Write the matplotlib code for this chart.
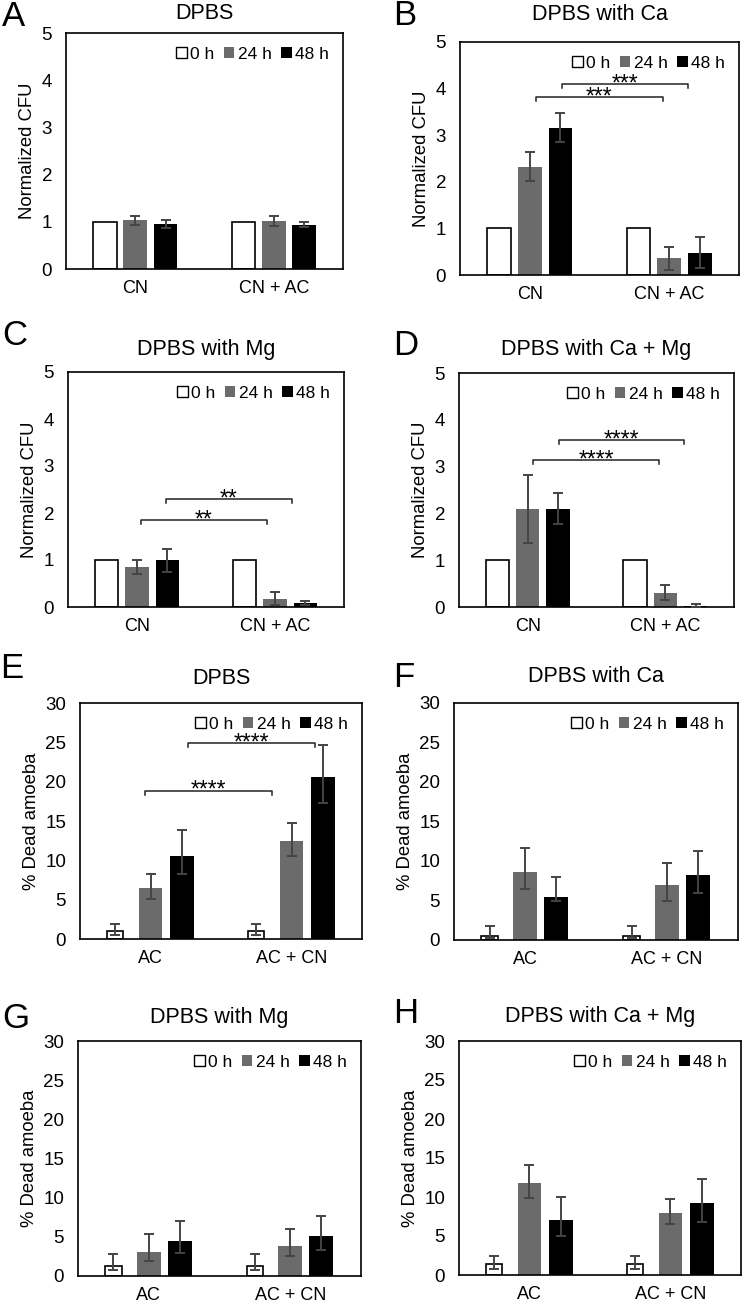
import numpy as np
import matplotlib
matplotlib.use('Agg')
import matplotlib.pyplot as plt
from matplotlib.patches import Patch

plt.rcParams['font.family'] = ['Liberation Sans', 'DejaVu Sans']

# ---- data ----
times = ['0 h', '24 h', '48 h']
cfu_groups = ['CN', 'CN + AC']
amoeba_groups = ['AC', 'AC + CN']

# values per group: [0 h, 24 h, 48 h]
cfu_dpbs = [[1.0, 1.03, 0.95], [1.0, 1.02, 0.94]]
cfu_dpbs_err = [[0, 0.09, 0.09], [0, 0.11, 0.05]]
cfu_ca = [[1.0, 2.32, 3.16], [1.0, 0.36, 0.48]]
cfu_ca_err = [[0, 0.31, 0.31], [0, 0.25, 0.34]]
cfu_mg = [[1.0, 0.86, 0.99], [1.0, 0.18, 0.085]]
cfu_mg_err = [[0, 0.15, 0.24], [0, 0.14, 0.035]]
cfu_camg = [[1.0, 2.10, 2.10], [1.0, 0.30, 0.03]]
cfu_camg_err = [[0, 0.73, 0.33], [0, 0.16, 0.03]]

dead_dpbs = [[1.0, 6.5, 10.6], [1.0, 12.5, 20.6]]
dead_dpbs_lo = [[0.45, 1.45, 2.3], [0.45, 1.9, 3.25]]
dead_dpbs_hi = [[0.93, 1.8, 3.3], [0.93, 2.3, 4.0]]
dead_ca = [[0.55, 8.6, 5.4], [0.55, 6.9, 8.2]]
dead_ca_lo = [[0.34, 2.2, 0.5], [0.34, 1.9, 2.2]]
dead_ca_hi = [[1.27, 3.1, 2.6], [1.27, 2.9, 3.1]]
dead_mg = [[1.27, 3.1, 4.5], [1.27, 3.8, 5.1]]
dead_mg_lo = [[0.55, 1.2, 1.55], [0.55, 1.3, 1.75]]
dead_mg_hi = [[1.57, 2.2, 2.55], [1.57, 2.2, 2.55]]
dead_camg = [[1.4, 11.8, 7.1], [1.4, 7.9, 9.2]]
dead_camg_lo = [[0.63, 1.9, 2.1], [0.63, 1.4, 2.35]]
dead_camg_hi = [[1.03, 2.3, 2.9], [1.03, 1.9, 3.1]]

# significance brackets: (x start, x end, height, label)
sig_ca = [(0.045, 0.953, 3.81, '***'), (0.229, 1.137, 4.09, '***')]
sig_mg = [(0.027, 0.944, 1.85, '**'), (0.208, 1.125, 2.29, '**')]
sig_camg = [(0.04, 0.957, 3.14, '****'), (0.227, 1.139, 3.57, '****')]
sig_dead_dpbs = [(-0.039, 0.86, 18.85, '****'), (0.268, 1.167, 24.87, '****')]

W, H = 742, 1304
fig = plt.figure(figsize=(W / 100, H / 100), dpi=100)

colors = ['white', '#6b6b6b', 'black']


def add_axes(l, t, r, b):
    return fig.add_axes([l / W, 1 - b / H, (r - l) / W, (b - t) / H])


def draw_panel(ax, groups, vals, lo, hi, ymax, ystep, ylabel, title, tpad,
               sig=(), narrow0=False):
    vals = np.array(vals, dtype=float).T
    lo = np.array(lo, dtype=float).T
    hi = np.array(hi, dtype=float).T
    x = np.arange(len(groups))
    offsets = [-0.22, 0.0, 0.22]
    widths = [0.17, 0.17, 0.17]
    if narrow0:
        offsets[0] = -0.25
        widths[0] = 0.115
    for k in range(3):
        pos = x + offsets[k]
        ax.bar(pos, vals[k], widths[k], color=colors[k],
               edgecolor='black', linewidth=1.2 if k == 0 else 0, zorder=2)
        m = hi[k] > 0
        if m.any():
            ax.errorbar(pos[m], vals[k][m], yerr=[lo[k][m], hi[k][m]], fmt='none',
                        ecolor='#444444', elinewidth=1.4, capsize=3.5,
                        capthick=1.4, zorder=3)
    for x1, x2, y, s in sig:
        d = ymax * 0.017
        ax.plot([x1, x1, x2, x2], [y - d, y, y, y - d], color='#222222', lw=1.1, zorder=4)
        ax.annotate(s, xy=((x1 + x2) / 2, y), xytext=(0, -4.5), textcoords='offset points',
                    ha='center', va='baseline', fontsize=16.5)
    ax.set_xlim(-0.5, 1.5)
    ax.set_ylim(0, ymax)
    ax.set_yticks(np.arange(0, ymax + ystep / 2, ystep))
    ax.set_xticks(x)
    ax.set_xticklabels(groups, fontsize=13)
    ax.tick_params(axis='y', length=0, pad=10, labelsize=13.5)
    ax.tick_params(axis='x', length=0, pad=8)
    ax.set_ylabel(ylabel, fontsize=13.3, labelpad=4)
    ax.set_title(title, fontsize=15.5, pad=tpad)
    for sp in ax.spines.values():
        sp.set_linewidth(1.2)
    handles = [Patch(facecolor=c, edgecolor='black', linewidth=1.0 if i == 0 else 0)
               for i, c in enumerate(colors)]
    ax.legend(handles, times, ncol=3, loc='upper right', frameon=False, fontsize=12.5,
              handlelength=0.6, handleheight=0.6, handletextpad=0.2,
              columnspacing=0.55, borderaxespad=0.5, borderpad=0.3)


ax = add_axes(66, 33, 343, 269)
draw_panel(ax, cfu_groups, cfu_dpbs, cfu_dpbs_err, cfu_dpbs_err, 5, 1,
           'Normalized CFU', 'DPBS', 10)
ax = add_axes(460, 42, 739, 275)
draw_panel(ax, cfu_groups, cfu_ca, cfu_ca_err, cfu_ca_err, 5, 1,
           'Normalized CFU', 'DPBS with Ca', 16, sig_ca)
ax = add_axes(68, 372, 344, 607)
draw_panel(ax, cfu_groups, cfu_mg, cfu_mg_err, cfu_mg_err, 5, 1,
           'Normalized CFU', 'DPBS with Mg', 12, sig_mg)
ax = add_axes(459, 373, 734, 607)
draw_panel(ax, cfu_groups, cfu_camg, cfu_camg_err, cfu_camg_err, 5, 1,
           'Normalized CFU', 'DPBS with Ca + Mg', 13, sig_camg)
ax = add_axes(80, 703, 362, 939)
draw_panel(ax, amoeba_groups, dead_dpbs, dead_dpbs_lo, dead_dpbs_hi, 30, 5,
           '% Dead amoeba', 'DPBS', 13.5, sig_dead_dpbs, narrow0=True)
ax = add_axes(454, 703, 738, 940)
draw_panel(ax, amoeba_groups, dead_ca, dead_ca_lo, dead_ca_hi, 30, 5,
           '% Dead amoeba', 'DPBS with Ca', 15, narrow0=True)
ax = add_axes(78, 1041, 361, 1276)
draw_panel(ax, amoeba_groups, dead_mg, dead_mg_lo, dead_mg_hi, 30, 5,
           '% Dead amoeba', 'DPBS with Mg', 13, narrow0=True)
ax = add_axes(459, 1041, 741, 1275)
draw_panel(ax, amoeba_groups, dead_camg, dead_camg_lo, dead_camg_hi, 30, 5,
           '% Dead amoeba', 'DPBS with Ca + Mg', 14, narrow0=True)

# panel letters
letters = ['A', 'B', 'C', 'D', 'E', 'F', 'G', 'H']
letter_pos = [(2, 26), (393, 25), (2, 345), (393, 355),
              (0, 678), (393, 687), (2, 1028), (393, 1023)]
for s, (px, py) in zip(letters, letter_pos):
    fig.text(px / W, 1 - py / H, s, fontsize=25, ha='left', va='baseline')

fig.savefig('out.png', dpi=100)
